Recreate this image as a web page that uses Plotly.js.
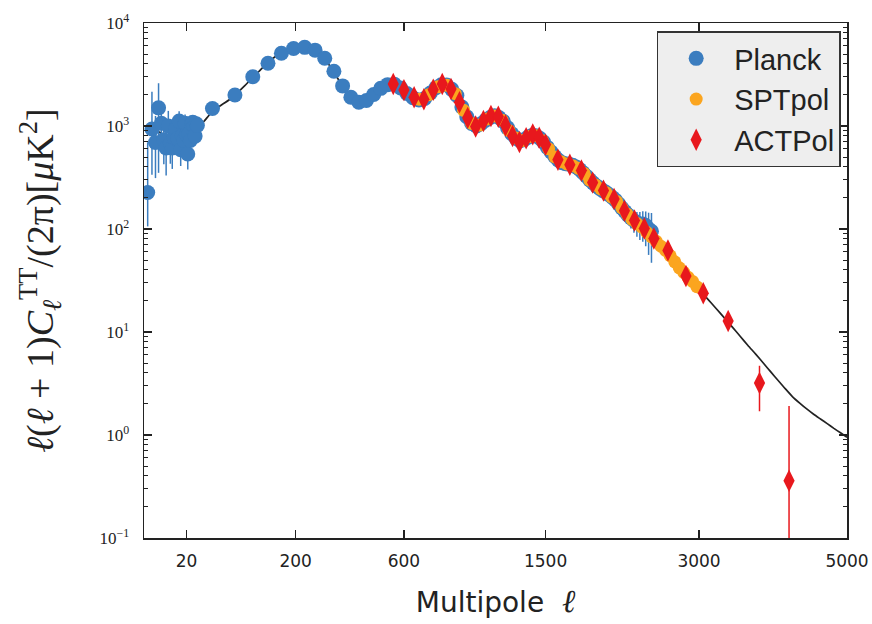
<!DOCTYPE html>
<html>
<head>
<meta charset="utf-8">
<script src="https://cdn.plot.ly/plotly-3.0.1.min.js"></script>
<style>html,body{margin:0;padding:0;background:#fff;}#chart{width:872px;height:624px;}</style>
</head>
<body>
<div id="chart"></div>
<script>
// ---------------- data ----------------
var theoryEll = [2,3,4,5,6,8,10,12,15,18,20,25,30,35,40,45,50,60,70,80,90,100,110,120,130,140,150,160,170,180,190,200,210,220,230,240,250,260,270,280,290,300,310,320,330,340,350,360,370,380,390,400,410,420,430,440,450,460,470,480,490,500,510,520,530,540,550,560,570,580,590,600,620,640,660,680,700,720,740,760,780,800,820,840,860,880,900,920,940,960,980,1000,1020,1040,1060,1080,1100,1120,1140,1160,1180,1200,1230,1260,1290,1320,1350,1380,1410,1440,1470,1500,1530,1560,1590,1620,1650,1680,1710,1740,1770,1800,1850,1900,1950,2000,2050,2100,2150,2200,2250,2300,2400,2500,2600,2700,2800,2900,3000,3100,3200,3300,3400,3500,3600,3700,3800,3900,4000,4100,4200,4300,4400,4500,4600,4700,4800,4900,5000];
var theoryD = [1050,980,920,880,850,810,790,785,800,830,850,920,1000,1100,1250,1400,1500,1680,1880,2150,2450,2800,3150,3550,3950,4350,4700,5000,5270,5480,5630,5730,5790,5800,5740,5620,5450,5200,4900,4580,4230,3870,3500,3150,2820,2530,2280,2080,1930,1820,1750,1710,1700,1720,1760,1820,1900,1990,2090,2190,2290,2380,2450,2510,2550,2560,2550,2520,2460,2380,2290,2200,2030,1890,1810,1790,1830,1950,2120,2300,2440,2520,2520,2420,2230,1980,1710,1460,1260,1120,1040,1010,1020,1060,1120,1180,1230,1265,1255,1200,1120,1030,890,790,735,720,750,800,820,800,740,665,590,530,480,450,430,425,420,410,390,365,320,280,255,235,215,195,172,150,133,120,100,80,64,51,41,32.5,26,21,17,13.8,11.2,9.1,7.4,6.1,5.0,4.1,3.38,2.8,2.35,2.04,1.79,1.59,1.43,1.29,1.16,1.05,0.95];

var planckLowEll = [2,3,4,5,6,7,8,9,10,11,12,13,14,15,16,17,18,19,20,21,22,23,24,25,26,27,28,29];
var planckLowD = [226,936,692,1501,1063,735,611,1002,680,613,771,940,756,1118,589,805,727,1063,823,534,838,723,1052,1085,988,798,1050,1010];
var planckLowErrPlus = [470,1220,560,1100,600,480,420,400,370,340,320,300,280,270,260,250,240,230,220,215,210,205,200,195,190,185,180,176];
var planckLowErrMinus = [120,600,380,1150,380,310,280,260,250,230,220,210,200,190,180,175,170,165,160,155,150,148,145,142,140,137,135,132];

var planckBinEll = [44.5,74.5,104.5,134.5,164.5,194.5,224.5,254.5,284.5,314.5,344.5,374.5,404.5,434.5,464.5,494.5,524.5,554.5,584.5,614.5,644.5,674.5,704.5,734.5,764.5,794.5,824.5,854.5,884.5,914.5,944.5,974.5,1004.5,1034.5,1064.5,1094.5,1124.5,1154.5,1184.5,1214.5,1244.5,1274.5,1304.5,1334.5,1364.5,1394.5,1424.5,1454.5,1484.5,1514.5,1544.5,1574.5,1604.5,1634.5,1664.5,1694.5,1724.5,1754.5,1784.5,1814.5,1844.5,1874.5,1904.5,1934.5,1964.5,1994.5,2024.5,2054.5,2084.5,2114.5,2144.5,2174.5,2204.5,2234.5,2264.5,2294.5,2324.5,2354.5,2384.5,2414.5,2444.5,2474.5];
var planckBinD = [1480,2000,3010,4060,5080,5660,5800,5450,4550,3400,2450,1900,1700,1770,2020,2320,2520,2550,2340,2070,1880,1790,1850,2090,2350,2510,2500,2270,1980,1530,1230,1060,1000,1050,1140,1210,1260,1210,1110,960,840,760,720,735,780,810,805,760,700,620,560,505,465,440,430,425,415,400,378,352,325,300,280,262,248,236,226,214,202,190,175,160,148,137,128,121,115,112,112,108,100,95];
var planckBinErr = [60,70,90,100,110,110,110,100,85,70,55,45,40,38,38,40,40,40,36,32,30,28,28,30,32,33,32,30,26,22,19,17,16,16,17,17,18,17,16,15,14,13,13,13,13,14,14,14,13,13,12,12,12,12,12,13,13,13,13,13,13,13,14,14,15,15,16,17,18,19,20,21,23,25,27,29,31,34,37,40,44,48];

var sptEll = [675,725,775,825,875,925,975,1025,1075,1125,1175,1225,1275,1325,1375,1425,1475,1525,1575,1625,1675,1725,1775,1825,1875,1925,1975,2025,2075,2125,2175,2225,2275,2325,2375,2425,2475,2525,2575,2625,2675,2725,2775,2825,2875,2925,2975];
var sptD = [1820,2010,2400,2480,2060,1420,1060,1020,1170,1250,1140,900,765,725,790,805,720,600,500,450,428,412,388,345,298,268,245,225,205,185,160,140,124,113,104,93,84,76,68,62,55,48,42,38,34,31,27.5];
var sptErr = [40,40,45,45,40,30,22,20,22,24,22,18,15,14,15,15,14,12,10,9,9,9,8,8,7,6,6,6,5,5,5,4,4,4,4,3.5,3.5,3,3,3,2.8,2.6,2.4,2.2,2,2,1.8];

var actEll = [550,600,650,700,750,800,850,900,950,1000,1050,1100,1150,1200,1250,1300,1350,1400,1450,1500,1600,1700,1800,1900,2000,2100,2200,2300,2400,2500,2650,2850,3050,3350,3750,4150];
var actD = [2560,2230,1900,1820,2250,2560,2290,1700,1200,990,1120,1250,1230,1010,800,700,760,830,770,660,470,420,370,282,236,196,150,121,101,81,62,35,23.8,12.8,3.2,0.36];
var actErr = [60,55,45,42,50,55,50,38,28,22,24,26,26,22,18,16,17,18,17,15,12,11,10,8,7.5,6.5,5.5,5,4.4,4,3.4,2.8,2.5,1.9,1.5,1.55];

var xTickEll = [20,200,600,1500,3000,5000];
var xTickText = ['20','200','600','1500','3000','5000'];
var yTickVals = [0.1,1,10,100,1000,10000];
var yTickText = ['10<sup>\u22121</sup>','10<sup>0</sup>','10<sup>1</sup>','10<sup>2</sup>','10<sup>3</sup>','10<sup>4</sup>'];
var seriesNames = ['Planck','SPTpol','ACTPol'];

// ---------------- scale: x axis is linear in ell^0.45 ----------------
var P = 0.45;
function fx(l){ return Math.pow(l, P); }

var BLUE = '#3b7dbf', ORANGE = '#fba51f', RED = '#e8181d', INK = '#222222';

var planckEll = planckLowEll.concat(planckBinEll);
var planckD = planckLowD.concat(planckBinD);
var planckPlus = planckLowErrPlus.concat(planckBinErr);
var planckMinus = planckLowErrMinus.concat(planckBinErr);

var traces = [
  {x: theoryEll.map(fx), y: theoryD, mode:'lines', line:{color:INK, width:1.7, shape:'spline', smoothing:0.6}, showlegend:false, hoverinfo:'skip'},
  {x: planckEll.map(fx), y: planckD, mode:'markers', name: seriesNames[0], legendgroup:'a',
   marker:{symbol:'circle', size:15, color:BLUE},
   error_y:{type:'data', symmetric:false, array:planckPlus, arrayminus:planckMinus, color:BLUE, thickness:1.5, width:0}},
  {x: sptEll.map(fx), y: sptD, mode:'markers', name: seriesNames[1], legendgroup:'b',
   marker:{symbol:'circle', size:13, color:ORANGE},
   error_y:{type:'data', array:sptErr, color:ORANGE, thickness:1.5, width:0}},
  {x: actEll.map(fx), y: actD, mode:'markers', name: seriesNames[2], legendgroup:'c',
   marker:{symbol:'diamond-tall', size:16, color:RED},
   error_y:{type:'data', array:actErr, color:RED, thickness:1.5, width:0}}
];

var layout = {
  width:872, height:624,
  margin:{l:144, r:25, t:23, b:86},
  paper_bgcolor:'#ffffff', plot_bgcolor:'#ffffff',
  showlegend:true,
  xaxis:{
    range:[1.13, fx(5000)],
    tickmode:'array', tickvals: xTickEll.map(fx), ticktext: xTickText,
    ticks:'inside', ticklen:8, tickwidth:1.2, tickcolor:INK,
    showline:true, linecolor:INK, linewidth:1.5, mirror:'ticks',
    showgrid:false, zeroline:false,
    tickfont:{family:'DejaVu Sans', size:17, color:INK},
    ticklabelstandoff:7,
    title:{text:'Multipole\u00a0 <span style="font-family:DejaVu Serif;font-size:32px"><i>\u2113</i></span>', font:{family:'DejaVu Sans', size:28, color:INK}, standoff:22}
  },
  yaxis:{
    type:'log', range:[-1,4],
    tickmode:'array', tickvals:yTickVals, ticktext:yTickText,
    ticks:'inside', ticklen:8, tickwidth:1.2, tickcolor:INK,
    minor:{ticks:'inside', ticklen:4, tickwidth:1, tickcolor:INK, dtick:'D1', showgrid:false},
    showline:true, linecolor:INK, linewidth:1.5, mirror:'ticks',
    showgrid:false, zeroline:false,
    tickfont:{family:'Liberation Serif', size:17, color:INK},
    ticklabelstandoff:10,
    title:{text:'<i>\u2113</i>(<i>\u2113</i> + 1)<i>C</i><sub><i>\u2113</i></sub><sup>TT</sup>/(2\u03c0)[<i>\u03bc</i>K<sup>2</sup>]',
           font:{family:'Liberation Serif', size:38, color:INK}, standoff:34}
  },
  legend:{
    x:0.991, xanchor:'right', y:0.9835, yanchor:'top',
    bgcolor:'#eeeeee', bordercolor:'#333333', borderwidth:1.5,
    font:{family:'Liberation Sans', size:29, color:INK},
    itemwidth:66, tracegroupgap:0
  }
};

Plotly.newPlot('chart', traces, layout, {displayModeBar:false, staticPlot:true});
</script>
</body>
</html>
